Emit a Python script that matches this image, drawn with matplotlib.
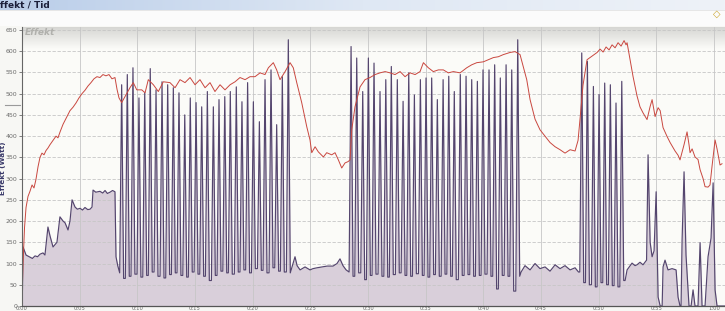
import numpy as np
import matplotlib
matplotlib.use("Agg")
import matplotlib.pyplot as plt
from matplotlib.patches import Rectangle

# ---------------- data ----------------
# y axis ticks (Watt) and x ticks (minutes)
y_ticks = list(range(0, 651, 50))
x_ticks = list(range(0, 61, 5))
x_tick_labels = ["0:00", "0:05", "0:10", "0:15", "0:20", "0:25", "0:30",
                 "0:35", "0:40", "0:45", "0:50", "0:55", "1:00"]

# power (purple area) – warm-up segment
warm_t = [0.00, 0.04, 0.09, 0.35, 0.69, 0.90, 1.13, 1.35, 1.56, 1.82, 1.99, 2.25, 2.43, 2.69,
          3.03, 3.29, 3.56, 3.73, 3.99, 4.16, 4.34, 4.60, 4.80, 5.03, 5.25, 5.46, 5.70, 5.90,
          6.07, 6.16, 6.40, 6.76, 7.00, 7.20, 7.40, 7.63, 7.85, 8.06, 8.15, 8.30]
warm_v = [0, 40, 139, 120, 115, 112, 118, 116, 122, 125, 120, 186, 165, 139,
          150, 210, 200, 196, 179, 200, 250, 233, 228, 230, 226, 232, 227, 228,
          233, 273, 268, 270, 266, 272, 265, 268, 272, 269, 116, 95]

# interval block 1
p1_peak_t = [8.64, 9.13, 9.62, 10.14, 10.64, 11.12, 11.62, 12.14, 12.63, 13.12,
             13.61, 14.11, 14.59, 15.09, 15.58, 16.07, 16.59, 17.08, 17.58, 18.06,
             18.58, 19.07, 19.56, 20.06, 20.58, 21.07, 21.59, 22.08, 22.57, 23.09]
p1_peak_v = [521, 545, 561, 490, 502, 559, 509, 528, 521, 514,
             502, 450, 490, 479, 469, 505, 469, 486, 493, 505,
             516, 481, 526, 481, 434, 533, 556, 427, 540, 627]
p1_trough_v = [78, 65, 70, 75, 68, 72, 80, 70, 66, 74, 78, 72, 68, 80, 75, 70,
               60, 72, 82, 78, 75, 80, 85, 78, 88, 84, 78, 90, 82, 80, 78]

# recovery 1
mid1_t = [23.67, 23.85, 24.11, 24.54, 24.97, 25.23, 25.58, 26.01, 26.45, 26.97,
          27.31, 27.57, 27.83, 28.10]
mid1_v = [116, 95, 85, 92, 85, 88, 90, 92, 94, 94, 100, 111, 95, 85]

# interval block 2
p2_peak_t = [28.53, 29.02, 29.54, 30.03, 30.52, 31.04, 31.54, 32.02, 32.54, 33.04,
             33.53, 34.02, 34.54, 35.03, 35.52, 36.01, 36.51, 37.00, 37.48, 38.00,
             38.50, 38.99, 39.48, 39.97, 40.49, 40.98, 41.47, 41.97, 42.46, 42.98]
p2_peak_v = [611, 584, 505, 584, 572, 505, 533, 564, 533, 482,
             549, 497, 533, 537, 537, 486, 533, 541, 505, 545,
             541, 533, 529, 556, 556, 568, 537, 568, 556, 627]
p2_trough_v = [80, 70, 78, 62, 72, 75, 70, 68, 74, 78, 72, 70, 76, 72, 68, 74,
               70, 75, 70, 62, 72, 74, 70, 72, 75, 70, 40, 72, 70, 35, 70]

# recovery 2
mid2_t = [43.27, 43.61, 44.05, 44.48, 44.91, 45.35, 45.78, 46.22, 46.65, 47.08,
          47.52, 47.95, 48.25]
mid2_v = [80, 95, 85, 100, 88, 92, 82, 97, 88, 95, 85, 90, 80]

# interval block 3
p3_peak_t = [48.53, 49.02, 49.54, 50.03, 50.52, 51.01, 51.50, 52.00]
p3_peak_v = [596, 576, 517, 498, 525, 521, 478, 529]
p3_trough_v = [80, 55, 50, 45, 55, 50, 48, 45, 60]

# cool-down / end
tail_t = [52.29, 52.46, 52.89, 53.15, 53.32, 53.58, 53.84, 54.15, 54.28, 54.46,
          54.63, 54.80, 54.98, 55.15, 55.33, 55.50, 55.58, 55.75, 56.01, 56.36,
          56.71, 56.88, 57.05, 57.14, 57.23, 57.40, 57.57, 57.83, 58.01, 58.18,
          58.35, 58.61, 58.79, 58.96, 59.22, 59.48, 59.74, 59.92, 60.09, 60.26, 60.95]
tail_v = [60, 85, 101, 95, 97, 103, 97, 108, 356, 150,
          116, 130, 269, 21, 0, 0, 92, 108, 85, 88,
          85, 21, 0, 0, 156, 316, 120, 0, 0, 38,
          0, 0, 149, 0, 0, 116, 160, 290, 38, 0, 0]

# second line (red)
red_t = [0.00, 0.09, 0.22, 0.35, 0.52, 0.69, 0.87, 1.04, 1.21, 1.39, 1.56, 1.73, 1.91,
         2.08, 2.25, 2.43, 2.69, 2.95, 3.12, 3.30, 3.56, 3.82, 4.16, 4.42, 4.68, 4.94,
         5.20, 5.46, 5.72, 5.98, 6.24, 6.50, 6.76, 7.02, 7.28, 7.54, 7.80, 8.06, 8.24,
         8.41, 8.64, 8.93, 9.36, 9.65, 9.95, 10.38, 10.67, 10.95, 11.39, 11.82, 12.25,
         12.83, 13.27, 13.70, 14.13, 14.57, 15.00, 15.43, 15.87, 16.30, 16.73, 17.17,
         17.60, 18.04, 18.47, 18.90, 19.34, 19.77, 20.20, 20.64, 21.07, 21.36, 21.79,
         22.08, 22.37, 22.81, 23.24, 23.52, 23.82, 24.25, 24.69, 24.97, 25.12, 25.41,
         25.69, 26.13, 26.42, 26.85, 27.14, 27.43, 27.72, 28.01, 28.27, 28.44, 28.59,
         28.87, 29.31, 29.74, 30.17, 30.61, 31.04, 31.48, 31.91, 32.34, 32.78, 33.21,
         33.64, 34.08, 34.51, 34.80, 35.23, 35.66, 36.10, 36.53, 36.96, 37.40, 37.98,
         38.56, 38.99, 39.43, 40.00, 40.43, 40.87, 41.30, 41.73, 42.31, 42.75, 43.18,
         43.76, 44.05, 44.48, 44.91, 45.35, 45.78, 46.22, 46.65, 47.08, 47.52, 47.95,
         48.21, 48.38, 48.64, 48.99, 49.25, 49.51, 49.86, 50.12, 50.38, 50.64, 50.90,
         51.16, 51.42, 51.68, 51.94, 52.20, 52.37, 52.46, 52.72, 52.98, 53.32, 53.58,
         53.84, 54.19, 54.46, 54.63, 54.89, 55.15, 55.33, 55.58, 55.93, 56.19, 56.62,
         56.88, 57.05, 57.40, 57.66, 57.83, 57.92, 58.10, 58.35, 58.61, 58.79, 59.05,
         59.22, 59.48, 59.65, 59.83, 60.09, 60.26, 60.52, 60.69]
red_v = [15, 100, 185, 232, 258, 270, 285, 278, 298, 328, 350, 360, 356,
         366, 372, 380, 390, 400, 396, 410, 428, 442, 460, 468, 478, 490,
         500, 508, 518, 526, 535, 540, 538, 545, 542, 545, 535, 538, 510,
         490, 479, 493, 514, 526, 509, 509, 502, 533, 521, 505, 528,
         526, 514, 533, 526, 538, 521, 533, 514, 526, 505, 521,
         509, 521, 528, 538, 533, 540, 540, 549, 545, 561, 573,
         556, 533, 552, 573, 561, 526, 479, 422, 391, 361, 375,
         363, 351, 361, 356, 361, 344, 325, 337, 340, 344, 415,
         469, 516, 533, 538, 545, 549, 552, 549, 545, 552, 540,
         549, 545, 552, 573, 561, 552, 556, 556, 549, 552, 549,
         561, 568, 573, 575, 580, 585, 587, 592, 597, 599, 592,
         533, 486, 440, 415, 400, 385, 375, 368, 360, 368, 365,
         390, 440, 520, 580, 585, 590, 597, 605, 598, 610, 603,
         615, 608, 620, 612, 625, 615, 620, 580, 540, 495, 469,
         455, 439, 470, 486, 446, 467, 460, 420, 399, 385, 365,
         355, 344, 380, 410, 380, 361, 370, 351, 345, 321, 300,
         281, 280, 285, 330, 391, 370, 332, 335]


# --------------- build power series from the read values ---------------
def add_pulses(ts, vs, peak_t, peak_v, trough_v, half=0.17):
    for i, (tp, vp) in enumerate(zip(peak_t, peak_v)):
        ts += [tp - half, tp, tp + half]
        vs += [trough_v[i], vp, trough_v[i + 1]]


pw_t, pw_v = list(warm_t), list(warm_v)
add_pulses(pw_t, pw_v, p1_peak_t, p1_peak_v, p1_trough_v)
pw_t += mid1_t; pw_v += mid1_v
add_pulses(pw_t, pw_v, p2_peak_t, p2_peak_v, p2_trough_v)
pw_t += mid2_t; pw_v += mid2_v
add_pulses(pw_t, pw_v, p3_peak_t, p3_peak_v, p3_trough_v)
pw_t += tail_t; pw_v += tail_v
pw_t = np.array(pw_t); pw_v = np.array(pw_v)

# ---------------- figure ----------------
W, H = 725, 311
fig = plt.figure(figsize=(W / 100, H / 100), dpi=100)
fig.patch.set_facecolor("#f7f7f4")

# title bar (gradient)
grad = np.linspace(0, 1, 256).reshape(1, -1)
bar_ax = fig.add_axes([0, 1 - 10 / H, 1, 10 / H])
bar_ax.imshow(grad, aspect="auto", extent=[0, 1, 0, 1],
              cmap=matplotlib.colors.LinearSegmentedColormap.from_list(
                  "bar", ["#b9cde9", "#dfe8f4", "#eef2f8"]))
bar_ax.set_axis_off()
bar_ax.text(0.0, 0.5, "ffekt / Tid", transform=bar_ax.transAxes, ha="left", va="center",
            fontsize=6.5, fontweight="bold", color="#1b1f3a")

# strip below title
fig.add_artist(Rectangle((0, 1 - 26 / H), 1, 15 / H, transform=fig.transFigure,
                         facecolor="#fbfbfb", edgecolor="none", zorder=0))
fig.add_artist(Rectangle((0, 1 - 11 / H), 1, 1 / H, transform=fig.transFigure,
                         facecolor="#e6e6e6", edgecolor="none", zorder=0))
# diamond icon
fig.text(717 / W, 1 - 14 / H, "\u25c7", ha="center", va="center", fontsize=7,
         color="#c9a227", fontweight="bold")

# main axes
ax = fig.add_axes([22 / W, 5 / H, (W - 22) / W, 279 / H])
ax.set_facecolor("#fbfbf8")
ax.set_xlim(0, 60.95)
ax.set_ylim(0, 657)

# top grey gradient band in plot
band = np.linspace(1, 0, 64).reshape(-1, 1)
ax.imshow(band, aspect="auto", extent=[0, 1, 1 - 22 / 279, 1], transform=ax.transAxes,
          cmap=matplotlib.colors.LinearSegmentedColormap.from_list(
              "band", ["#fbfbf8", "#d6d6d3"]), zorder=0.2)
ax.text(0.004, 0.995, "Effekt", transform=ax.transAxes, ha="left", va="top",
        fontsize=6.5, fontstyle="italic", fontweight="bold", color="#b0b0ac", zorder=3)

ax.fill_between(pw_t, pw_v, 0, color="#d9cfda", lw=0, zorder=1)
ax.plot(pw_t, pw_v, color="#54456e", lw=0.85, zorder=2)
ax.plot(red_t, red_v, color="#c9473f", lw=0.7, zorder=2.5)

ax.set_axisbelow("line")
ax.set_yticks(y_ticks)
ax.set_xticks(x_ticks)
ax.set_xticklabels(x_tick_labels)
ax.yaxis.grid(True, color="#c6c6c6", lw=0.6, linestyle=(0, (4, 2)))
ax.xaxis.grid(True, color="#c6c6c6", lw=0.6)
ax.tick_params(axis="y", labelsize=4.5, colors="#6a6a6a", length=2.5, width=0.6, pad=1)
ax.tick_params(axis="x", labelsize=3.8, colors="#6a6a6a", length=0, pad=0.3)

for s in ["top", "right"]:
    ax.spines[s].set_visible(False)
ax.spines["left"].set_color("#666666")
ax.spines["left"].set_linewidth(0.8)
ax.spines["bottom"].set_color("#555555")
ax.spines["bottom"].set_linewidth(0.9)
ax.spines["bottom"].set_linestyle((0, (2, 1)))

fig.text(3.5 / W, 1 - 168 / H, "Effekt (Watt)", rotation=90, ha="center", va="center",
         fontsize=5.2, fontweight="bold", color="#3a3a6a")
fig.add_artist(matplotlib.lines.Line2D([5 / W, 20 / W], [1 - 105 / H, 1 - 105 / H],
                                       transform=fig.transFigure, color="#9a9a9a", lw=0.8))

fig.savefig("out.png", dpi=100, facecolor=fig.get_facecolor())
